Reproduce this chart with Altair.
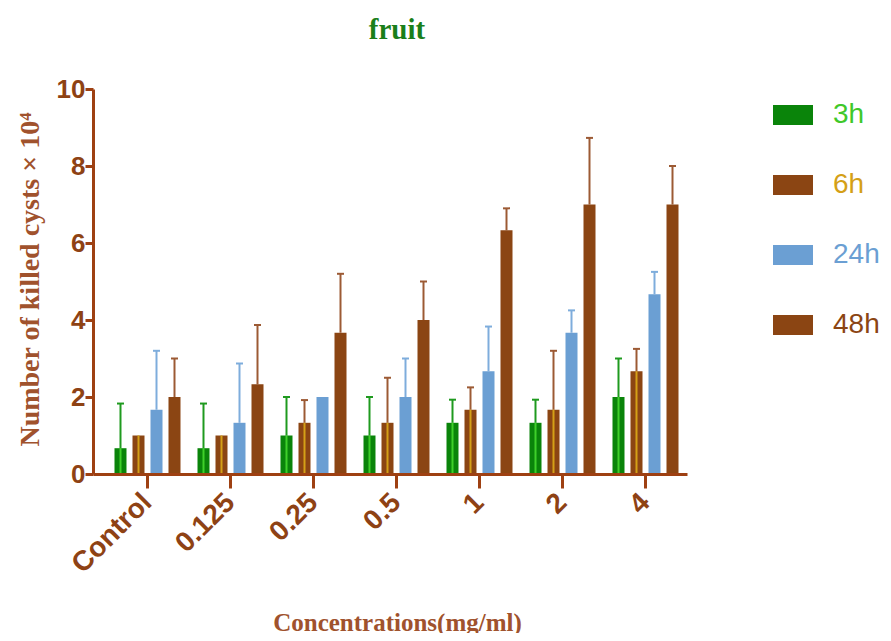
import altair as alt
import pandas as pd

categories = ["Control", "0.125", "0.25", "0.5", "1", "2", "4"]
series = ["3h", "6h", "24h", "48h"]

mean_3h = [0.67, 0.67, 1.0, 1.0, 1.33, 1.33, 2.0]
upper_3h = [1.83, 1.83, 2.0, 2.0, 1.93, 1.93, 3.0]
mean_6h = [1.0, 1.0, 1.33, 1.33, 1.67, 1.67, 2.67]
upper_6h = [1.0, 1.0, 1.92, 2.5, 2.25, 3.2, 3.25]
mean_24h = [1.67, 1.33, 2.0, 2.0, 2.67, 3.67, 4.67]
upper_24h = [3.2, 2.87, 2.0, 3.0, 3.83, 4.25, 5.25]
mean_48h = [2.0, 2.33, 3.67, 4.0, 6.33, 7.0, 7.0]
upper_48h = [3.0, 3.87, 5.2, 5.0, 6.9, 8.73, 8.0]

bar_dark = ["#0a840a", "#8b4513", "#6b9fd3", "#8b4513"]
bar_light = ["#3fd02a", "#d4a017", "#6b9fd3", "#8b4513"]
err_col = ["#1f9a1f", "#9c5a34", "#7eaddc", "#9c5a34"]
label_col = ["#3fc82a", "#d4a017", "#6b9fd3", "#8b4513"]
striped = ["3h", "6h"]

means = [mean_3h, mean_6h, mean_24h, mean_48h]
uppers = [upper_3h, upper_6h, upper_24h, upper_48h]
rows = []
for s, ms, us in zip(series, means, uppers):
    for c, m, u in zip(categories, ms, us):
        rows.append({"conc": c, "series": s, "mean": m, "upper": u})
df = pd.DataFrame(rows)

AXIS_COL = "#9e4012"
TEXT_COL = "#8e4214"

label_expr = " : ".join(
    [f"datum.label == '{s}' ? '{c}'" for s, c in zip(series[:-1], label_col[:-1])]
) + f" : '{label_col[-1]}'"

x = alt.X(
    "conc:N",
    sort=categories,
    scale=alt.Scale(paddingInner=0, paddingOuter=0.0783, align=1),
    axis=alt.Axis(
        title="Concentrations(mg/ml)",
        labelAngle=-45, labelAlign="right", labelBaseline="middle",
        labelFont="Liberation Sans", labelFontSize=28, labelFontWeight="bold",
        labelColor=TEXT_COL, labelPadding=10,
        tickSize=14, tickWidth=3, tickColor=AXIS_COL,
        domainColor=AXIS_COL, domainWidth=3,
        titleFont="Liberation Serif", titleFontSize=25, titleFontWeight="bold",
        titleColor="#a0522d", titleX=304, titleY=156, titleBaseline="alphabetic",
        zindex=1,
    ),
)
xo = alt.XOffset("series:N", sort=series,
                 scale=alt.Scale(domain=series, paddingInner=0.333, paddingOuter=0.472))

y_axis = alt.Axis(
    title="Number of killed cysts × 10⁴",
    values=[0, 2, 4, 6, 8, 10], grid=False,
    labelFont="Liberation Sans", labelFontSize=26, labelFontWeight="bold",
    labelColor=TEXT_COL, labelPadding=0,
    tickSize=8, tickWidth=3, tickColor=AXIS_COL,
    domainColor=AXIS_COL, domainWidth=3,
    titleFont="Liberation Serif", titleFontSize=28, titleFontWeight="bold",
    titleColor="#a0522d", titleX=-55, titleY=190, titleBaseline="alphabetic",
    zindex=1,
)

legend = alt.Legend(
    title=None, orient="none", legendX=670, legendY=-4,
    symbolSize=1600, symbolStrokeWidth=20, symbolOpacity=1,
    rowPadding=-28, padding=0,
    labelFont="Liberation Sans", labelFontSize=28, labelOffset=10,
    labelColor=alt.ExprRef(expr=label_expr),
)

base = alt.Chart(df)
yq = alt.Y("mean:Q", scale=alt.Scale(domain=[0, 10], nice=False), axis=y_axis)
color_scale = alt.Scale(domain=series, range=bar_dark)

legend_layer = base.mark_rule(opacity=0).encode(
    x=x, xOffset=xo, y=yq,
    color=alt.Color("series:N", sort=series, scale=color_scale, legend=legend),
)

bars = base.mark_bar().encode(
    x=x, xOffset=xo, y=yq,
    color=alt.Color("series:N", sort=series, scale=color_scale, legend=None),
)

stripes = base.transform_filter(
    alt.FieldOneOfPredicate(field="series", oneOf=striped)
).transform_calculate(series2="datum.series").mark_bar(width=2).encode(
    x=x, xOffset=xo, y=yq,
    fill=alt.Fill("series2:N", sort=series, scale=alt.Scale(domain=series, range=bar_light),
                  legend=None),
)

errs = base.transform_filter("datum.upper > datum.mean")

err_rule = errs.mark_rule(strokeWidth=2).encode(
    x=x, xOffset=xo,
    y="mean:Q", y2="upper:Q",
    stroke=alt.Stroke("series:N", sort=series, scale=alt.Scale(domain=series, range=err_col), legend=None),
)
err_cap = errs.mark_point(shape="stroke", size=49, strokeWidth=2, opacity=1).encode(
    x=x, xOffset=xo,
    y="upper:Q",
    stroke=alt.Stroke("series:N", sort=series, scale=alt.Scale(domain=series, range=err_col), legend=None),
)

chart = alt.layer(legend_layer, err_rule, err_cap, bars, stripes).properties(
    width=594, height=385,
    title=alt.TitleParams("fruit", font="Liberation Serif", fontSize=29, fontWeight="bold",
                          color="#1a7f1a", offset=31, anchor="middle", dx=7),
    autosize=alt.AutoSizeParams(type="none"),
    padding={"left": 85, "top": 81, "right": 196, "bottom": 159},
).configure_view(stroke=None)

chart.save("out.html", embed_options={"renderer": "svg", "actions": False})
